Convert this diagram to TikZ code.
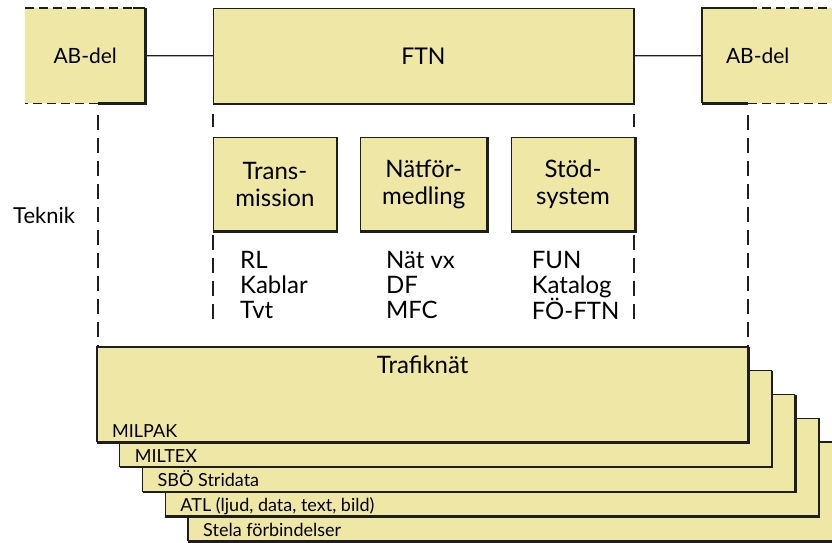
\documentclass[tikz,border=0pt]{standalone}
\usepackage{fontspec}
\setmainfont{Lato}
\definecolor{padyellow}{RGB}{239, 231, 166}
\definecolor{inkline}{RGB}{30, 30, 30}
\usetikzlibrary{positioning}

\begin{document}
\begin{tikzpicture}[x=1pt, y=-1pt, node distance=1cm]
                \tikzstyle{pad} = [fill=padyellow, inner sep=0pt, anchor=north west]
                \tikzstyle{sub} = [pad, draw=inkline, line width=0.8pt, minimum height=94pt, align=center, font=\fontsize{24}{27}\selectfont]
                \tikzstyle{rim} = [draw=inkline, line width=2.6pt]
                \tikzstyle{link} = [draw=inkline, line width=1.2pt]
                \tikzstyle{frame} = [draw=inkline, line width=1.4pt, dash pattern=on 15pt off 8pt]
                \tikzstyle{edgedash} = [draw=inkline, line width=1.2pt, dash pattern=on 9pt off 5pt]
                \tikzstyle{lst} = [inner sep=0pt, align=left, anchor=north west, font=\fontsize{24}{25}\selectfont]
                \tikzstyle{strip} = [inner sep=0pt, anchor=base west, font=\fontsize{18}{20}\selectfont]

                \useasboundingbox (0,0) rectangle (832,543);
                \clip (0,0) rectangle (832,543);

                % FTN with the two AB-del parts
                \node [pad, minimum width=120pt, minimum height=95pt, font=\fontsize{21}{24}\selectfont] (abl) at (25,8) {AB-del};
                \node [pad, draw=inkline, line width=0.8pt, minimum width=420pt, minimum height=95pt, font=\fontsize{23}{26}\selectfont] (ftn) at (213,8) {FTN};
                \node [pad, minimum width=135pt, minimum height=95pt, font=\fontsize{21}{24}\selectfont] (abr) at (702,8) {AB-del\hspace*{24pt}};
                \draw [rim] (ftn.south west) -- (ftn.south east) -- (ftn.north east);

                \coordinate (abl-drop) at ([xshift=73pt]abl.south west);
                \coordinate (abl-cut) at ([xshift=-12pt]abl.north east);
                \draw [edgedash] (abl.north west) -- (abl-cut);
                \draw [link] (abl-cut) -- (abl.north east);
                \draw [rim] (abl.north east) -- (abl.south east) -- (abl-drop);
                \draw [edgedash] (abl-drop) -- (abl.south west);

                \coordinate (abr-drop) at ([xshift=46pt]abr.south west);
                \coordinate (abr-cut) at ([xshift=46pt]abr.north west);
                \draw [link] (abr.south west) -- (abr.north west) -- (abr-cut);
                \draw [edgedash] (abr-cut) -- (abr.north east);
                \draw [rim] (abr.south west) -- (abr-drop);
                \draw [edgedash] (abr-drop) -- (abr.south east);

                \draw [link] (abl) -- (ftn);
                \draw [link] (ftn) -- (abr);

                % Teknik
                \node [sub, minimum width=123pt, below right=33pt and 0pt of ftn.south west] (trans) {Trans-\\mission};
                \node [sub, minimum width=127pt, right=23pt of trans] (natf) {Nätför-\\medling};
                \node [sub, minimum width=124pt, right=23pt of natf] (stod) {Stöd-\\system};
                \foreach \b in {trans, natf, stod}
                    \draw [rim] (\b.south west) -- (\b.south east) -- (\b.north east);

                \node [lst, below right=15pt and 27pt of trans.south west] (translist) {\vphantom{Ä}RL\\Kablar\\Tvt};
                \node [lst, below right=15pt and 26pt of natf.south west] (natflist) {\vphantom{Ä}Nät vx\\DF\\MFC};
                \node [lst, below right=15pt and 21pt of stod.south west] (stodlist) {\vphantom{Ä}FUN\\Katalog\\FÖ-FTN};

                \node [inner sep=0pt, anchor=base west, font=\fontsize{22}{24}\selectfont] (teknik) at (13,223) {Teknik};

                % Trafiknät, lagren bakifrån
                \foreach \i/\txt in {4/Stela förbindelser, 3/{ATL (ljud, data, text, bild)}, 2/SBÖ Stridata, 1/MILTEX, 0/MILPAK} {
                    \pgfmathsetmacro\lx{97+22.75*\i}
                    \pgfmathsetmacro\ty{347+23.75*\i}
                    \pgfmathsetmacro\lw{651+0.75*\i}
                    \pgfmathsetmacro\lh{95+\i}
                    \node [pad, minimum width=\lw pt, minimum height=\lh pt] (layer\i) at (\lx,\ty) {};
                    \draw [link] (layer\i.south west) -- (layer\i.north west) -- (layer\i.north east);
                    \draw [rim] (layer\i.south west) -- (layer\i.south east) -- (layer\i.north east);
                    \node [strip] (label\i) at ([xshift=15pt, yshift=5pt]layer\i.south west) {\txt};
                }
                \node [inner sep=0pt, below=9pt of layer0.north, font=\fontsize{24}{26}\selectfont] (trafik) {Trafiknät};

                % streckade ramar
                \draw [frame] ([yshift=-12pt]abl-drop) -- (abl-drop |- layer0.north);
                \draw [frame] ([yshift=-12pt]abr-drop) -- (abr-drop |- layer0.north);
                \coordinate [below=88pt of trans.south west] (fl);
                \coordinate [below=88pt of trans.south west -| ftn.south east] (fr);
                \draw [frame] ([yshift=-10pt]ftn.south west) -- ([yshift=10pt]ftn.south west |- trans.north);
                \draw [frame] ([yshift=-10pt]ftn.south east) -- ([yshift=10pt]ftn.south east |- stod.north);
                \draw [frame] ([yshift=-3pt]trans.south west) -- (fl);
                \draw [frame] ([yshift=-3pt]ftn.south east |- stod.south) -- (fr);
            \end{tikzpicture}
\end{document}
